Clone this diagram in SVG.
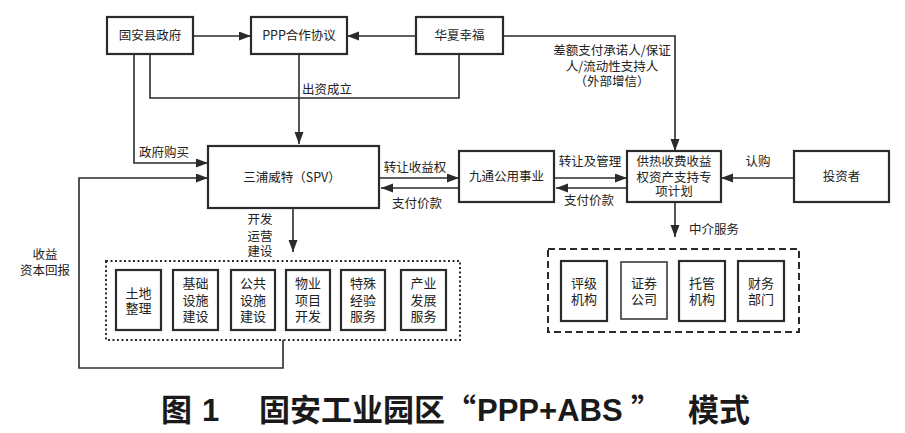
<svg xmlns="http://www.w3.org/2000/svg" width="905" height="433" viewBox="0 0 905 433">
<style>
.box{fill:#fff;stroke:#2b2b2b;stroke-width:2.2}
.thin{fill:#fff;stroke:#3a3a3a;stroke-width:1.6}
.ln{fill:none;stroke:#2b2b2b;stroke-width:1.6}
.t{font-family:"Noto Sans CJK SC","Noto Sans",sans-serif;font-size:12.5px;fill:#222;text-anchor:middle}
.ts{font-family:"Noto Sans CJK SC","Noto Sans",sans-serif;font-size:13px;fill:#222;text-anchor:middle}
.ttl{font-family:"Noto Sans CJK SC","Liberation Sans",sans-serif;font-size:31px;font-weight:bold;fill:#1a1a1a}
</style>
<defs>
<marker id="ah" markerUnits="userSpaceOnUse" markerWidth="13" markerHeight="10" refX="12" refY="4.5" orient="auto">
<path d="M0,0 L12,4.5 L0,9 z" fill="#2b2b2b"/>
</marker>
</defs>
<rect width="905" height="433" fill="#fff"/>

<g id="connectors">
<line class="ln" x1="193" y1="36" x2="251" y2="36" marker-end="url(#ah)"/>
<line class="ln" x1="416" y1="36" x2="347" y2="36" marker-end="url(#ah)"/>
<polyline class="ln" points="150,54 150,98 459,98 459,54"/>
<line class="ln" x1="299" y1="54" x2="299" y2="144" marker-end="url(#ah)"/>
<polyline class="ln" points="134,54 134,163 208,163" marker-end="url(#ah)"/>
<polyline class="ln" points="503,36 675,36 675,151" marker-end="url(#ah)"/>
<line class="ln" x1="379" y1="178" x2="459" y2="178" marker-end="url(#ah)"/>
<line class="ln" x1="459" y1="188" x2="381" y2="188" marker-end="url(#ah)"/>
<line class="ln" x1="554" y1="178" x2="627" y2="178" marker-end="url(#ah)"/>
<line class="ln" x1="627" y1="188" x2="556" y2="188" marker-end="url(#ah)"/>
<line class="ln" x1="794" y1="178" x2="721" y2="178" marker-end="url(#ah)"/>
<line class="ln" x1="293" y1="208" x2="293" y2="252" marker-end="url(#ah)"/>
<line class="ln" x1="675" y1="202" x2="675" y2="237" marker-end="url(#ah)"/>
<polyline class="ln" points="283,340 283,368 79,368 79,178 208,178" marker-end="url(#ah)"/>
<text class="t" x="327" y="94">出资成立</text>
<text class="t" x="164" y="157">政府购买</text>
<text class="t" x="45" y="259">收益<tspan x="45" dy="16">资本回报</tspan></text>
<text class="t" x="415" y="172">转让收益权</text>
<text class="t" x="417" y="208">支付价款</text>
<text class="t" x="590" y="166">转让及管理</text>
<text class="t" x="589" y="205">支付价款</text>
<text class="t" x="758" y="166">认购</text>
<text class="t" x="714" y="234">中介服务</text>
<text class="t" x="612" y="55">差额支付承诺人/保证<tspan x="612" dy="16">人/流动性支持人</tspan><tspan x="612" dy="15">（外部增信）</tspan></text>
<text class="t" x="260" y="224">开发<tspan x="260" dy="17">运营</tspan><tspan x="260" dy="15">建设</tspan></text>
</g>

<g id="n-gov"><rect class="box" x="107" y="17" width="86" height="37"/><text class="t" x="150" y="40">固安县政府</text></g>
<g id="n-ppp"><rect class="box" x="251" y="17" width="96" height="37"/><text class="t" x="299" y="40">PPP合作协议</text></g>
<g id="n-hx"><rect class="box" x="416" y="17" width="87" height="37"/><text class="t" x="459.5" y="40">华夏幸福</text></g>
<g id="n-spv"><rect class="box" x="208" y="146" width="171" height="62"/><text class="t" x="292" y="182">三浦威特（SPV）</text></g>
<g id="n-jt"><rect class="box" x="459" y="151" width="95" height="51"/><text class="t" x="506.5" y="181">九通公用事业</text></g>
<g id="n-abs"><rect class="box" x="627" y="151" width="94" height="51"/>
<text class="t" x="674" y="166">供热收费收益<tspan x="674" dy="16">权资产支持专</tspan><tspan x="674" dy="14">项计划</tspan></text></g>
<g id="n-inv"><rect class="box" x="794" y="151" width="95" height="51"/><text class="t" x="841.5" y="181">投资者</text></g>

<g id="n-dev">
<rect x="106" y="261" width="354" height="79" fill="none" stroke="#2b2b2b" stroke-width="2" stroke-dasharray="2,2.5"/>
<g id="n-d1"><rect class="box" x="116" y="270" width="45" height="60"/><text class="ts" x="138.5" y="297.5">土地<tspan x="138.5" dy="15.5">整理</tspan></text></g>
<g id="n-d2"><rect class="box" x="173" y="270" width="45" height="60"/><text class="ts" x="195.5" y="288">基础<tspan x="195.5" dy="16.5">设施</tspan><tspan x="195.5" dy="16.5">建设</tspan></text></g>
<g id="n-d3"><rect class="box" x="231" y="270" width="44" height="60"/><text class="ts" x="253" y="288">公共<tspan x="253" dy="16.5">设施</tspan><tspan x="253" dy="16.5">建设</tspan></text></g>
<g id="n-d4"><rect class="box" x="286" y="270" width="44" height="60"/><text class="ts" x="308" y="288">物业<tspan x="308" dy="16.5">项目</tspan><tspan x="308" dy="16.5">开发</tspan></text></g>
<g id="n-d5"><rect class="box" x="341" y="270" width="44" height="60"/><text class="ts" x="363" y="288">特殊<tspan x="363" dy="16.5">经验</tspan><tspan x="363" dy="16.5">服务</tspan></text></g>
<g id="n-d6"><rect class="box" x="401" y="270" width="45" height="60"/><text class="ts" x="423.5" y="288">产业<tspan x="423.5" dy="16.5">发展</tspan><tspan x="423.5" dy="16.5">服务</tspan></text></g>
</g>

<g id="n-svc">
<rect x="548" y="249" width="251" height="83" fill="none" stroke="#2b2b2b" stroke-width="2" stroke-dasharray="7,4"/>
<g id="n-s1"><rect class="box" x="561" y="261" width="46" height="60"/><text class="ts" x="584" y="288">评级<tspan x="584" dy="16">机构</tspan></text></g>
<g id="n-s2"><rect class="thin" x="621" y="262" width="46" height="57"/><text class="ts" x="644" y="288">证券<tspan x="644" dy="16">公司</tspan></text></g>
<g id="n-s3"><rect class="box" x="679" y="261" width="46" height="60"/><text class="ts" x="702" y="288">托管<tspan x="702" dy="16">机构</tspan></text></g>
<g id="n-s4"><rect class="box" x="738" y="261" width="46" height="60"/><text class="ts" x="761" y="288">财务<tspan x="761" dy="16">部门</tspan></text></g>
</g>

<g id="title">
<text class="ttl" x="161" y="421">图<tspan x="202" style="font-family:'Liberation Sans',sans-serif">1</tspan><tspan x="259">固安工业园区</tspan><tspan x="445">“</tspan><tspan x="477" style="font-family:'Liberation Sans',sans-serif">PPP+ABS</tspan><tspan x="631">”</tspan><tspan x="688">模式</tspan></text>
</g>
</svg>
